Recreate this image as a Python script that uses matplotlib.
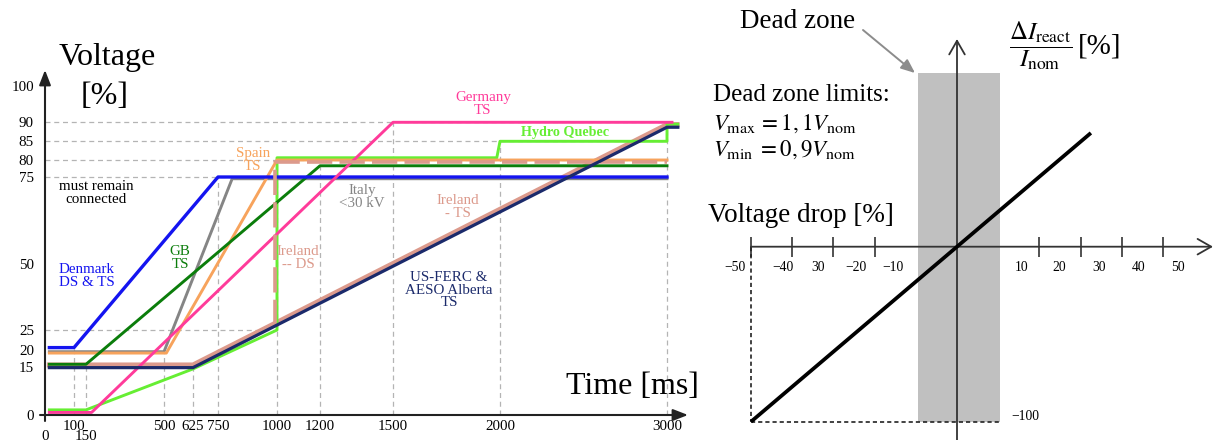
import numpy as np
import matplotlib
matplotlib.use('Agg')
import matplotlib.pyplot as plt

plt.rcParams['font.family'] = ['Liberation Serif', 'DejaVu Serif']
plt.rcParams['mathtext.fontset'] = 'stix'

# ---------------- data: left panel (voltage ride-through curves) ----------------
x_ticks = [0, 100, 150, 500, 625, 750, 1000, 1200, 1500, 2000, 3000]
y_ticks = [0, 15, 20, 25, 50, 75, 80, 85, 90, 100]

denmark_t = [15, 100, 750, 3000]
denmark_v = [20.6, 20.6, 75, 75]
italy_t = [15, 500, 810, 3000]
italy_v = [19.5, 19.5, 74.5, 74.5]
spain_t = [15, 510, 1000, 3000]
spain_v = [19.1, 19.1, 80, 80]
gb_t = [15, 150, 1200, 3000]
gb_v = [15.8, 15.8, 78.3, 78.3]
germany_t = [15, 175, 1500, 3030]
germany_v = [0.8, 0.8, 90, 90]
hydro_t = [15, 150, 625, 1000, 1000, 1985, 2000, 3000, 3000, 3065]
hydro_v = [1.6, 1.6, 14.4, 25, 80.6, 80.6, 85, 85, 89.5, 89.5]
ireland_ts_t = [15, 625, 3000, 3060]
ireland_ts_v = [15.6, 15.6, 89.4, 89.4]
ireland_ds_t = [993, 993, 3000]
ireland_ds_v = [27, 79.3, 79.3]
usferc_t = [15, 625, 3000, 3065]
usferc_v = [14.8, 14.8, 88.7, 88.7]

hgrid_v = [90, 85, 80, 75, 25]
hgrid_end = [3000, 3000, 3000, 3000, 1000]
vgrid_top = [20.6, 15.8, 19.5, 14.8, 75, 80, 78.3, 90, 85, 89.5]

# ---------------- data: right panel (reactive current injection) ----------------
drop_x = [-50, 32.5]
iq = [-100, 65]
dead_zone = [-9.4, 10.4]
zone_top = 99
xt_marks = [-50, -40, -30, -20, 20, 30, 40, 50]
xt_labels = ['\u221250', '\u221240', '30', '\u221220', '\u221210',
             '10', '20', '30', '40', '50']

# ---------------- layout ----------------
W, H = 1215, 440
xt_label_pos = [-54, -42.2, -33.7, -24.5, -15.6, 15.6, 24.8, 34.4, 44, 53.6]

# piecewise axis scales of the schematic (pixel offsets of the printed ticks)
XA_T = [-1000, 0, 100, 150, 500, 625, 750, 1000, 1200, 1500, 2000, 3000, 6000]
XA_P = [-290, 0, 29, 41, 119, 148, 173, 232, 275, 348, 455, 622, 1123]
YA_V = [-1000, 0, 15, 20, 25, 50, 75, 80, 85, 90, 100, 1000]
YA_P = [-3200, 0, 48, 65, 85, 151, 238, 255, 273.7, 292.7, 329, 3632]


def fx(t):
    return np.interp(t, XA_T, XA_P)


def fx_inv(p):
    return np.interp(p, XA_P, XA_T)


def fy(v):
    return np.interp(v, YA_V, YA_P)


def fy_inv(p):
    return np.interp(p, YA_P, YA_V)


def fp(x, y):
    return (x / W, 1 - y / H)


C_DK = '#1414f0'
C_IT = '#858585'
C_ES = '#f7a35c'
C_GB = '#0b7d0b'
C_DE = '#ff3b9a'
C_HQ = '#66ee33'
C_IE = '#dc9a8c'
C_US = '#1b2a6b'

fig = plt.figure(figsize=(W / 100, H / 100), dpi=100)

# ======================= left panel =======================
axL = fig.add_axes([0, 0, 705 / W, 1])
axL.patch.set_alpha(0)
axL.set_xscale('function', functions=(fx, fx_inv))
axL.set_yscale('function', functions=(fy, fy_inv))
X0, Y0 = 45, 415
axL.set_xlim(fx_inv(0 - X0), fx_inv(705 - X0))
axL.set_ylim(fy_inv(Y0 - H), fy_inv(Y0))
for s in axL.spines.values():
    s.set_color('none')
axL.spines['left'].set_position(('data', 0))
axL.spines['bottom'].set_position(('data', 0))

major_x = [t for t in x_ticks if t not in (0, 150)]
minor_x = [0, 150]
axL.set_xticks(major_x, labels=[str(t) for t in major_x])
axL.set_xticks(minor_x, labels=[str(t) for t in minor_x], minor=True)
axL.set_yticks(y_ticks, labels=[str(v) for v in y_ticks])
axL.set_yticks([], minor=True)
axL.tick_params(axis='x', which='major', length=0, pad=3.5, labelsize=10.8)
axL.tick_params(axis='x', which='minor', length=0, pad=11, labelsize=10.8)
axL.tick_params(axis='y', length=0, pad=8, labelsize=10.8)

grid_kw = dict(color='#b4b4b4', lw=0.9, ls=(0, (4, 3)), zorder=1)
for v, tend in zip(hgrid_v, hgrid_end):
    axL.plot([0, tend], [v, v], **grid_kw)
for t, top in zip(x_ticks[1:], vgrid_top):
    axL.plot([t, t], [0, top], **grid_kw)

lw = 2.1
axL.plot(ireland_ts_t, ireland_ts_v, color=C_IE, lw=3.6, zorder=3)
axL.plot(hydro_t, hydro_v, color=C_HQ, lw=lw, zorder=4)
axL.plot(italy_t, italy_v, color=C_IT, lw=lw, zorder=4)
axL.plot(spain_t, spain_v, color=C_ES, lw=lw, zorder=5)
axL.plot(gb_t, gb_v, color=C_GB, lw=lw, zorder=5)
axL.plot(denmark_t, denmark_v, color=C_DK, lw=2.4, zorder=6)
axL.plot(germany_t, germany_v, color=C_DE, lw=lw, zorder=6)
axL.plot(ireland_ds_t, ireland_ds_v, color=C_IE, lw=2.6, ls=(0, (7, 2)), zorder=7)
axL.plot(usferc_t, usferc_v, color=C_US, lw=2.3, zorder=8)

arrow_kw = dict(arrowstyle='-|>,head_length=0.9,head_width=0.35', color='#222222',
                lw=1.5, shrinkA=0, shrinkB=0, mutation_scale=10)
axL.annotate('', xy=(fx_inv(643), 0), xytext=(fx_inv(-5), 0), arrowprops=arrow_kw, zorder=9)
axL.annotate('', xy=(0, fy_inv(Y0 - 70)), xytext=(0, fy_inv(-6)), arrowprops=arrow_kw, zorder=9)

fig.text(*fp(107, 57), 'Voltage', fontsize=23, ha='center', va='center')
fig.text(*fp(105, 97), '[%]', fontsize=23, ha='center', va='center')
fig.text(*fp(632, 386), 'Time [ms]', fontsize=23, ha='center', va='center')

lab_kw = dict(fontsize=10.8, ha='center', va='center', linespacing=0.95)
fig.text(*fp(96, 193), 'must remain\nconnected', color='black', **lab_kw)
fig.text(*fp(87, 276), 'Denmark\nDS & TS', color=C_DK, **lab_kw)
fig.text(*fp(180, 258), 'GB\nTS', color=C_GB, **lab_kw)
fig.text(*fp(253, 160), 'Spain\nTS', color=C_ES, **lab_kw)
fig.text(*fp(362, 197), 'Italy\n<30 kV', color=C_IT, **lab_kw)
fig.text(*fp(298, 258), 'Ireland\n-- DS', color=C_IE, **lab_kw)
fig.text(*fp(458, 207), 'Ireland\n- TS', color=C_IE, **lab_kw)
fig.text(*fp(483, 104), 'Germany\nTS', color=C_DE, **lab_kw)
fig.text(*fp(565, 132), 'Hydro Quebec', color=C_HQ, fontsize=10.2, fontweight='bold',
         ha='center', va='center')
fig.text(*fp(449, 290), 'US-FERC &\nAESO Alberta\nTS', color=C_US, **lab_kw)

# ======================= right panel =======================
axR = fig.add_axes([705 / W, 0, 510 / W, 1])
axR.patch.set_alpha(0)
OX, OY, SX, SY = 957, 246.7, 4.12, 1.75
axR.set_xlim((705 - OX) / SX, (1215 - OX) / SX)
axR.set_ylim((OY - H) / SY, OY / SY)
for s in axR.spines.values():
    s.set_color('none')
axR.spines['bottom'].set_position(('data', 0))
axR.spines['left'].set_position(('data', 0))
axR.set_yticks([])
axR.set_xticks(xt_marks, labels=[''] * len(xt_marks))
axR.set_xticks(xt_label_pos, labels=xt_labels, minor=True)
axR.tick_params(axis='x', which='major', direction='inout', length=15, width=1.2,
                color='#333333')
axR.tick_params(axis='x', which='minor', length=0, pad=10, labelsize=9.8)

axR.fill_between(dead_zone, [-100, -100], [zone_top, zone_top], color='#c0c0c0',
                 lw=0, zorder=1)
dot_kw = dict(color='#222222', lw=1.2, ls=(0, (2.5, 1.8)), zorder=2)
axR.plot([drop_x[0], drop_x[0]], [0, iq[0]], **dot_kw)
axR.plot([drop_x[0], dead_zone[1]], [iq[0], iq[0]], **dot_kw)
axR.plot(drop_x, iq, color='black', lw=2.7, zorder=4, solid_capstyle='butt')

open_kw = dict(arrowstyle='->,head_length=0.7,head_width=0.4', color='#333333',
               lw=1.3, shrinkA=0, shrinkB=0, mutation_scale=14)
axR.annotate('', xy=((1213 - OX) / SX, 0), xytext=(xt_marks[0], 0), arrowprops=open_kw, zorder=3)
axR.annotate('', xy=(0, (OY - 39) / SY), xytext=(0, (OY - H) / SY), arrowprops=open_kw, zorder=3)

axR.annotate('\u2212100', xy=(dead_zone[1], iq[0]), xytext=(11, 5), textcoords='offset pixels',
             fontsize=9.8, ha='left', va='center')

fig.text(*fp(798, 21), 'Dead zone', fontsize=19.5, ha='center', va='center')
axR.annotate('', xy=((915 - OX) / SX, (OY - 73) / SY), xytext=((863 - OX) / SX, (OY - 30) / SY),
             arrowprops=dict(arrowstyle='-|>,head_length=0.6,head_width=0.25', color='#8c8c8c',
                             lw=1.4, shrinkA=0, shrinkB=0, mutation_scale=14))
fig.text(*fp(713, 95), 'Dead zone limits:', fontsize=18, ha='left', va='center')
fig.text(*fp(713, 124), r'$V_{\mathrm{max}}\,=1,1V_{\mathrm{nom}}$', fontsize=16.5,
         ha='left', va='center')
fig.text(*fp(713, 150), r'$V_{\mathrm{min}}\;=0,9V_{\mathrm{nom}}$', fontsize=16.5,
         ha='left', va='center')
fig.text(*fp(708, 215), 'Voltage drop [%]', fontsize=19.5, ha='left', va='center')
fig.text(*fp(1041, 46), r'$\dfrac{\Delta I_{\mathrm{react}}}{I_{\mathrm{nom}}}$', fontsize=18,
         ha='center', va='center')
fig.text(*fp(1100, 46), '[%]', fontsize=21, ha='center', va='center')

fig.savefig('out.png', dpi=100)
